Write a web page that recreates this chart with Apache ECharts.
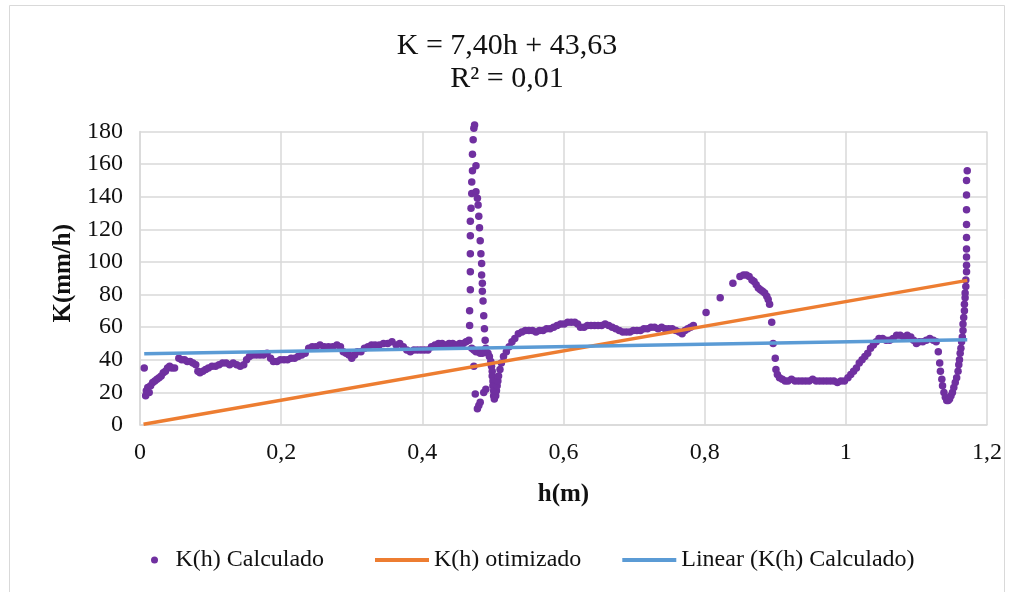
<!DOCTYPE html>
<html>
<head>
<meta charset="utf-8">
<title>K(h)</title>
<script src="https://cdn.jsdelivr.net/npm/echarts@6.0.0/dist/echarts.min.js"></script>
<style>
  html, body { margin: 0; padding: 0; background: #ffffff; }
  #chart { width: 1014px; height: 592px; }
</style>
</head>
<body>
<div id="chart"></div>
<script>
// Calculated hydraulic conductivity K (mm/h) against depth h (m)
const calcH = [
  0.006, 0.008, 0.009, 0.011, 0.013, 0.015, 0.018, 0.021, 0.024, 0.027, 0.030, 0.033, 0.036, 0.039, 0.042, 0.045, 0.049,
  0.055, 0.059, 0.063, 0.067, 0.071, 0.075, 0.079, 0.082, 0.085, 0.089, 0.093, 0.097, 0.102, 0.107, 0.112, 0.117, 0.122,
  0.127, 0.132, 0.137, 0.142, 0.147, 0.151, 0.155, 0.160, 0.165, 0.170, 0.175, 0.180, 0.185, 0.189, 0.194, 0.199, 0.204,
  0.209, 0.214, 0.219, 0.224, 0.229, 0.234, 0.239, 0.244, 0.249, 0.255, 0.261, 0.267, 0.273, 0.279, 0.284, 0.288, 0.292,
  0.296, 0.300, 0.304, 0.308, 0.313, 0.318, 0.323, 0.328, 0.333, 0.339, 0.345, 0.351, 0.357, 0.363, 0.368, 0.373, 0.378,
  0.383, 0.388, 0.393, 0.398, 0.403, 0.408, 0.413, 0.418, 0.423, 0.428, 0.433, 0.438, 0.443, 0.448, 0.453, 0.458, 0.462,
  0.466,
  0.467, 0.467, 0.468, 0.468, 0.468, 0.468, 0.468, 0.469, 0.470, 0.470, 0.471, 0.471, 0.472, 0.473, 0.474,
  0.476, 0.476, 0.478, 0.479, 0.480, 0.481, 0.482, 0.483, 0.484, 0.484, 0.485, 0.485, 0.486, 0.487, 0.488, 0.489, 0.490,
  0.470, 0.473, 0.476, 0.479, 0.482, 0.485, 0.488, 0.473, 0.475, 0.478, 0.480, 0.482, 0.487, 0.490,
  0.493, 0.495, 0.497, 0.498, 0.499, 0.499, 0.500, 0.500, 0.501, 0.501, 0.502, 0.504, 0.505, 0.506, 0.507, 0.508, 0.510,
  0.512, 0.515, 0.519, 0.523, 0.527, 0.531, 0.536, 0.541, 0.546, 0.551, 0.556, 0.561, 0.566, 0.571, 0.576, 0.581, 0.586,
  0.591, 0.596, 0.601, 0.606, 0.611, 0.616, 0.620, 0.624, 0.629, 0.634, 0.639, 0.644, 0.649, 0.654, 0.659, 0.664, 0.669,
  0.674, 0.679, 0.684, 0.689, 0.694, 0.699, 0.704, 0.709, 0.714, 0.719, 0.724, 0.729, 0.734, 0.739, 0.744, 0.749, 0.754,
  0.759, 0.764, 0.768, 0.772, 0.776, 0.780, 0.784,
  0.802, 0.822, 0.840, 0.850, 0.855, 0.859, 0.863, 0.867, 0.870, 0.873, 0.876, 0.879, 0.882, 0.885, 0.888, 0.890, 0.892,
  0.895, 0.897, 0.900, 0.901, 0.903, 0.906, 0.910, 0.914, 0.918, 0.923, 0.928, 0.933, 0.938, 0.943, 0.948, 0.953, 0.958,
  0.963, 0.968, 0.973, 0.978, 0.983, 0.988, 0.993, 0.998,
  1.003, 1.007, 1.011, 1.015, 1.019, 1.023, 1.027, 1.031, 1.035, 1.039, 1.043, 1.047, 1.052, 1.057, 1.062, 1.067, 1.072,
  1.077, 1.082, 1.087, 1.092, 1.096, 1.100, 1.104, 1.109, 1.114, 1.119, 1.124, 1.128,
  1.131, 1.133, 1.134, 1.136, 1.137, 1.139, 1.141, 1.143, 1.145, 1.147, 1.149, 1.151, 1.153, 1.155, 1.157, 1.159, 1.160,
  1.161, 1.162, 1.163, 1.164, 1.165, 1.166, 1.166, 1.167, 1.168, 1.168, 1.169, 1.169, 1.170, 1.170, 1.171, 1.171, 1.171,
  1.171, 1.171, 1.171, 1.171, 1.171, 1.171, 1.172
];
const calcK = [
  35, 18, 21, 23, 20, 24, 26, 27, 28, 29, 30, 32, 33, 35, 36, 35, 35,
  41, 40, 40, 39, 39, 38, 37, 33, 32, 33, 34, 35, 36, 36, 37, 38, 38,
  37, 38, 37, 36, 37, 40, 42, 43, 43, 43, 43, 44, 41, 39, 39, 40, 40,
  40, 41, 41, 42, 43, 44, 47, 48, 48, 49, 48, 48, 48, 49, 48, 45, 44,
  43, 41, 43, 45, 45, 47, 48, 49, 49, 49, 50, 50, 51, 49, 50, 48, 46,
  45, 46, 46, 46, 46, 46, 48, 49, 50, 50, 49, 50, 50, 49, 50, 50, 51,
  52,
  61, 70, 83, 94, 105, 116, 125, 133, 142, 149, 156, 166, 175, 182, 184,
  159, 143, 139, 135, 128, 121, 113, 105, 99, 92, 87, 82, 76, 67, 59, 52, 47,
  47, 46, 45, 45, 44, 44, 45, 36, 19, 10, 12, 14, 20, 22,
  44, 42, 39, 36, 33, 30, 27, 24, 21, 18, 16, 18, 21, 24, 27, 30, 34,
  38, 42, 45, 48, 51, 53, 56, 57, 58, 58, 58, 57, 58, 58, 59, 59, 60,
  61, 62, 62, 63, 63, 63, 62, 60, 60, 61, 61, 61, 61, 61, 62, 61, 60,
  59, 58, 57, 57, 57, 58, 58, 58, 59, 59, 60, 60, 59, 60, 59, 59, 59,
  58, 57, 56, 58, 59, 60, 61,
  69, 78, 87, 91, 92, 92, 91, 89, 88, 86, 84, 83, 82, 81, 79, 77, 74,
  63, 50, 41, 34, 31, 29, 28, 27, 27, 28, 27, 27, 27, 27, 27, 28, 27,
  27, 27, 27, 27, 27, 26, 27, 27,
  29, 31, 33, 35, 38, 40, 42, 44, 47, 49, 51, 53, 53, 52, 52, 53, 55,
  55, 54, 55, 54, 52, 50, 51, 51, 52, 53, 52, 51,
  45, 38, 33, 28, 24, 20, 17, 15, 15, 16, 18, 20, 23, 26, 29, 33, 37,
  40, 44, 47, 51, 54, 58, 62, 66, 70, 74, 78, 81, 85, 89, 94, 98, 103,
  108, 115, 123, 132, 141, 150, 156
];

// Optimised K(h) curve (straight line between its end points)
const otimH = [0.005, 1.172];
const otimK = [0.4, 88.7];

// Linear trend of the calculated values, as printed in the title
const trendSlope = 7.40;
const trendIntercept = 43.63;
const trendH = [0.006, 1.172];

const xTicks = [0, 0.2, 0.4, 0.6, 0.8, 1.0, 1.2];
const yTicks = [0, 20, 40, 60, 80, 100, 120, 140, 160, 180];

const seriesNames = ['K(h) Calculado', 'K(h) otimizado', 'Linear (K(h) Calculado)'];
const titleLines = ['K = 7,40h + 43,63', 'R² = 0,01'];

const FONT = '"Liberation Serif", "Times New Roman", serif';
const TEXT = '#111111';
const GRID = '#d9d9d9';

const calcData = calcH.map((h, i) => [h, calcK[i]]);
const otimData = otimH.map((h, i) => [h, otimK[i]]);
const trendData = trendH.map(h => [h, trendSlope * h + trendIntercept]);

const fmtComma = v => String(Math.round(v * 10) / 10).replace('.', ',');

const chart = echarts.init(document.getElementById('chart'), null, { renderer: 'canvas' });

chart.setOption({
  backgroundColor: '#ffffff',
  animation: false,
  title: {
    text: titleLines.join('\n'),
    left: 'center',
    top: 30,
    padding: [0, 0, 0, 10],
    textStyle: { fontFamily: FONT, fontSize: 30, fontWeight: 'normal', color: TEXT, lineHeight: 33 }
  },
  graphic: [{
    type: 'polyline',
    shape: { points: [[9.5, 600], [9.5, 5.5], [1004.5, 5.5], [1004.5, 600]] },
    style: { stroke: '#d9d9d9', fill: null, lineWidth: 1 },
    silent: true
  }],
  legend: [{
    data: [seriesNames[0]],
    left: 146,
    top: 543,
    icon: 'circle',
    itemWidth: 32,
    itemHeight: 7,
    itemGap: 0,
    textStyle: { fontFamily: FONT, fontSize: 24, color: TEXT }
  }, {
    data: [seriesNames[1], seriesNames[2]],
    left: 370,
    top: 543,
    icon: 'rect',
    itemWidth: 54,
    itemHeight: 4,
    itemGap: 41,
    textStyle: { fontFamily: FONT, fontSize: 24, color: TEXT }
  }],
  grid: { left: 140, right: 27, top: 131.5, bottom: 167, containLabel: false },
  xAxis: {
    type: 'value',
    min: xTicks[0],
    max: xTicks[xTicks.length - 1],
    interval: xTicks[1] - xTicks[0],
    name: 'h(m)',
    nameLocation: 'middle',
    nameGap: 57,
    nameTextStyle: { fontFamily: FONT, fontSize: 25, fontWeight: 'bold', color: TEXT },
    axisLine: { show: true, lineStyle: { color: GRID, width: 1.5 } },
    axisTick: { show: false },
    axisLabel: { formatter: fmtComma, margin: 16, fontFamily: FONT, fontSize: 24, color: TEXT },
    splitLine: { show: true, lineStyle: { color: GRID, width: 1.5 } }
  },
  yAxis: {
    type: 'value',
    min: yTicks[0],
    max: yTicks[yTicks.length - 1],
    interval: yTicks[1] - yTicks[0],
    name: 'K(mm/h)',
    nameLocation: 'middle',
    nameRotate: 90,
    nameGap: 60,
    nameTextStyle: { fontFamily: FONT, fontSize: 25, fontWeight: 'bold', color: TEXT, padding: [0, 0, 0, 10] },
    axisLine: { show: true, lineStyle: { color: GRID, width: 1.5 } },
    axisTick: { show: false },
    axisLabel: { margin: 17, fontFamily: FONT, fontSize: 24, color: TEXT },
    splitLine: { show: true, lineStyle: { color: GRID, width: 1.5 } }
  },
  series: [{
    name: seriesNames[0],
    type: 'scatter',
    data: calcData,
    symbol: 'circle',
    symbolSize: 7.5,
    clip: false,
    itemStyle: { color: '#7030a0', opacity: 1 },
    z: 2
  }, {
    name: seriesNames[1],
    type: 'line',
    data: otimData,
    showSymbol: false,
    symbol: 'none',
    lineStyle: { color: '#ed7d31', width: 3.5 },
    itemStyle: { color: '#ed7d31' },
    z: 3
  }, {
    name: seriesNames[2],
    type: 'line',
    data: trendData,
    showSymbol: false,
    symbol: 'none',
    lineStyle: { color: '#5b9bd5', width: 3.5 },
    itemStyle: { color: '#5b9bd5' },
    z: 4
  }]
});
</script>
</body>
</html>
